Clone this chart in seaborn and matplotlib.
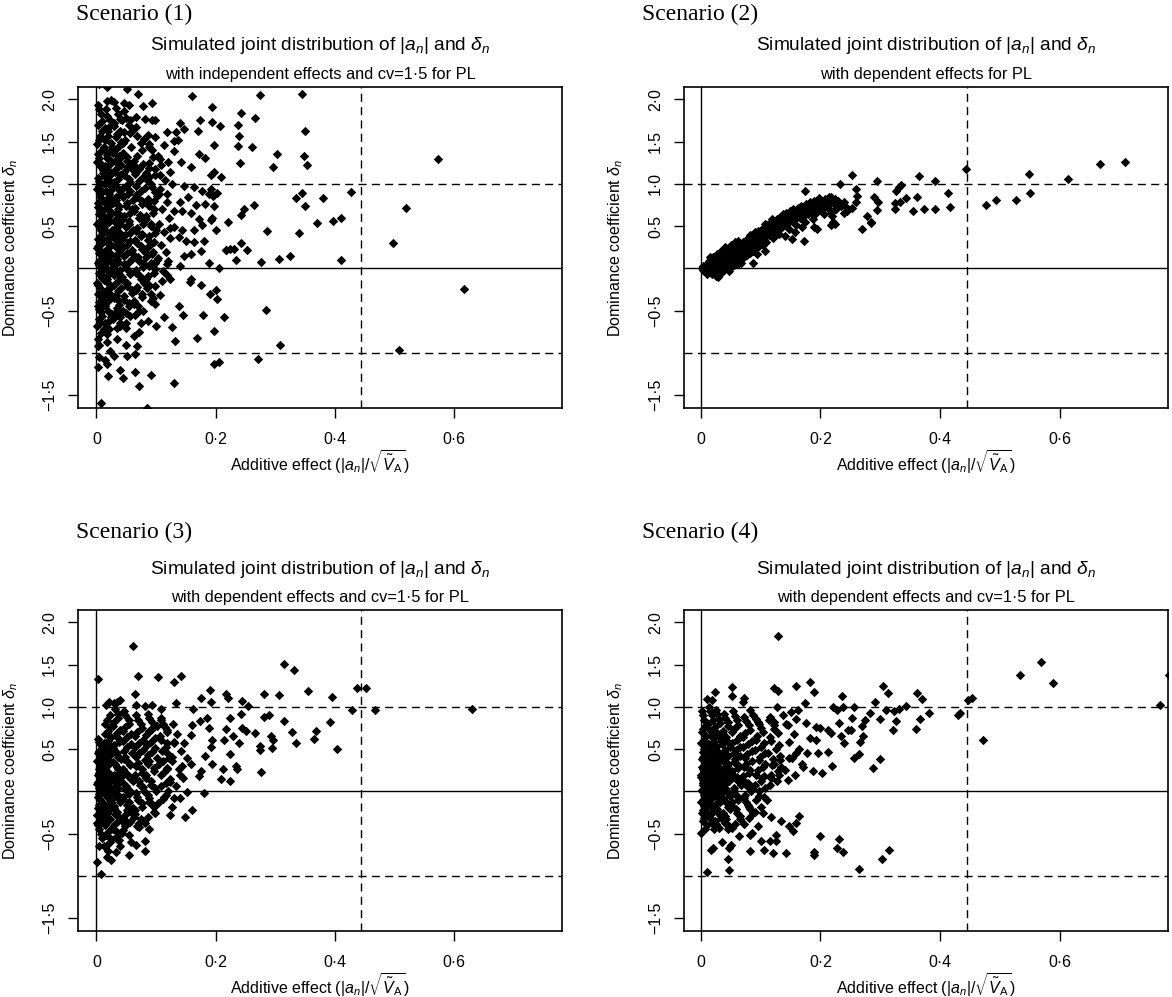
import numpy as np
import matplotlib
matplotlib.use("Agg")
import matplotlib.pyplot as plt
import seaborn as sns

# ---------------- data ----------------
# Scenario 1: independent effects, cv=1.5
s1_outer = [(0.573,1.29),(0.618,-0.245),(0.520,0.714),(0.498,0.296),(0.508,-0.966),(0.427,0.907),
 (0.411,0.595),(0.397,0.556),(0.371,0.532),(0.381,0.832),(0.411,0.095),(0.346,2.066),(0.351,1.624),
 (0.353,1.218),(0.348,1.325),(0.346,0.887),(0.336,0.836),(0.350,0.737),(0.340,0.422),(0.325,0.146),
 (0.307,0.114),(0.309,-0.907),(0.304,1.349),(0.297,1.203),(0.274,2.047),(0.267,1.778),(0.261,1.431),
 (0.264,0.753),(0.287,0.442),(0.277,0.079),(0.284,-0.489),(0.272,-1.065),(0.242,1.841),(0.240,1.565),
 (0.238,1.443),(0.241,1.250),(0.238,1.692),(0.248,0.702),(0.243,0.631),(0.243,0.296),(0.253,0.213),
 (0.231,0.229),(0.218,0.221),(0.234,0.103),(0.005,2.18),(0.017,2.145)]
s1_mid = [(0.052,2.12),(0.070,2.06),(0.161,2.04),(0.194,1.91),(0.094,1.96),(0.078,1.92),(0.047,1.95),
 (0.054,1.93),(0.024,1.99),(0.018,1.98),(0.066,1.79),(0.057,1.76),(0.043,1.75),(0.081,1.77),(0.094,1.76),
 (0.099,1.75),(0.141,1.72),(0.147,1.65),(0.174,1.76),(0.194,1.73),(0.207,1.68),(0.171,1.63),(0.134,1.61),
 (0.119,1.61),(0.098,1.55),(0.080,1.53),(0.060,1.63),(0.046,1.61),(0.035,1.59),(0.130,1.51),(0.137,1.52),
 (0.113,1.46),(0.088,1.43),(0.103,1.33),(0.130,1.39),(0.197,1.46),(0.172,1.35),(0.182,1.30),(0.159,1.20),
 (0.142,1.26),(0.120,1.26),(0.107,1.29),(0.089,1.19),(0.066,1.20),(0.053,1.20),(0.040,1.30),(0.088,1.08),
 (0.098,1.10),(0.107,1.11),(0.124,1.14),(0.197,1.14),(0.210,1.08),(0.192,1.10),(0.127,1.00),(0.147,0.98),
 (0.164,0.96),(0.178,0.92),(0.192,0.94),(0.189,0.88),(0.203,0.89),(0.196,0.86),(0.183,0.76),(0.197,0.74),
 (0.168,0.75),(0.153,0.84),(0.141,0.78),(0.119,0.88),(0.105,0.88),(0.096,0.80),(0.130,0.68),(0.144,0.68),
 (0.158,0.65),(0.172,0.58),(0.194,0.60),(0.221,0.55),(0.192,0.57),(0.178,0.51),(0.164,0.45),(0.144,0.45),
 (0.130,0.49),(0.200,0.45),(0.139,0.37),(0.150,0.33),(0.164,0.31),(0.180,0.32),(0.217,0.22),(0.225,0.23),
 (0.175,0.21),(0.158,0.17),(0.147,0.15),(0.189,0.06),(0.206,0.00),(0.141,0.03),(0.119,0.05),(0.099,0.07),
 (0.159,-0.13),(0.157,-0.16),(0.176,-0.19),(0.191,-0.30),(0.200,-0.26),(0.203,-0.36),(0.179,-0.55),
 (0.214,-0.57),(0.197,-0.74),(0.169,-0.82),(0.132,-0.86),(0.127,-0.69),(0.146,-0.55),(0.138,-0.44),
 (0.113,-0.58),(0.100,-0.68),(0.087,-0.62),(0.078,-0.50),(0.091,-0.38),(0.099,-0.21),(0.110,-0.15),
 (0.124,-0.13),(0.085,-0.23),(0.063,-0.42),(0.063,-0.80),(0.050,-0.90),(0.068,-0.92),(0.064,-1.01),
 (0.052,-1.03),(0.029,-1.03),(0.018,-1.13),(0.020,-1.27),(0.040,-1.20),(0.045,-1.29),(0.064,-1.22),
 (0.071,-1.39),(0.091,-1.26),(0.130,-1.35),(0.197,-1.13),(0.206,-1.11),(0.007,-1.59),(0.085,-1.65),
 (0.002,-1.17),(0.017,-0.78),(0.004,-0.90),(0.035,-0.70),(0.049,-0.64),(0.040,-0.58)]
s1_core = [(0.003,1.93),(0.008,1.83),(0.002,1.70),(0.010,1.62),(0.005,1.52),(0.001,1.47),(0.009,1.40),
 (0.004,1.31),(0.001,1.26),(0.007,1.20),(0.011,1.13),(0.003,1.07),(0.008,1.00),(0.001,0.94),(0.006,0.88),
 (0.010,0.82),(0.002,0.77),(0.007,0.70),(0.004,0.64),(0.011,0.58),(0.001,0.53),(0.006,0.47),(0.009,0.41),
 (0.003,0.35),(0.008,0.29),(0.001,0.24),(0.005,0.18),(0.010,0.12),(0.002,0.07),(0.007,0.01),(0.004,-0.05),
 (0.010,-0.11),(0.001,-0.17),(0.006,-0.23),(0.003,-0.30),(0.009,-0.37),(0.002,-0.44),(0.007,-0.52),
 (0.004,-0.60),(0.001,-0.68),(0.008,-0.76),(0.003,-0.92),(0.005,-1.05),
 (0.016,1.88),(0.022,1.76),(0.014,1.66),(0.020,1.57),(0.025,1.48),(0.013,1.41),(0.018,1.34),(0.024,1.27),
 (0.015,1.21),(0.021,1.15),(0.013,1.09),(0.019,1.03),(0.025,0.97),(0.016,0.91),(0.022,0.85),(0.013,0.79),
 (0.019,0.73),(0.024,0.67),(0.015,0.61),(0.021,0.55),(0.013,0.49),(0.018,0.43),(0.025,0.38),(0.016,0.32),
 (0.022,0.26),(0.014,0.20),(0.019,0.14),(0.024,0.08),(0.015,0.02),(0.021,-0.04),(0.013,-0.10),(0.018,-0.16),
 (0.025,-0.22),(0.016,-0.28),(0.022,-0.35),(0.014,-0.42),(0.020,-0.50),(0.024,-0.58),(0.015,-0.65),
 (0.021,-0.72),(0.017,-0.87),(0.023,-0.98),(0.014,-1.08),
 (0.030,1.97),(0.036,1.83),(0.029,1.72),(0.040,1.63),(0.033,1.55),(0.038,1.45),(0.028,1.37),(0.035,1.29),
 (0.041,1.22),(0.031,1.14),(0.037,1.06),(0.029,0.99),(0.039,0.92),(0.033,0.85),(0.028,0.77),(0.036,0.70),
 (0.041,0.62),(0.030,0.56),(0.035,0.49),(0.040,0.42),(0.029,0.36),(0.034,0.29),(0.039,0.22),(0.031,0.15),
 (0.037,0.08),(0.028,0.02),(0.035,-0.05),(0.040,-0.12),(0.030,-0.19),(0.036,-0.27),(0.029,-0.35),
 (0.038,-0.43),(0.032,-0.51),(0.027,-0.60),(0.039,-0.68),(0.034,-0.84),
 (0.046,1.86),(0.055,1.70),(0.048,1.52),(0.058,1.44),(0.044,1.36),(0.052,1.27),(0.060,1.17),(0.047,1.10),
 (0.056,1.02),(0.044,0.95),(0.053,0.88),(0.061,0.81),(0.049,0.74),(0.057,0.66),(0.045,0.59),(0.054,0.52),
 (0.061,0.45),(0.048,0.39),(0.056,0.32),(0.044,0.25),(0.052,0.18),(0.060,0.11),(0.047,0.05),(0.055,-0.03),
 (0.043,-0.10),(0.051,-0.17),(0.059,-0.25),(0.046,-0.33),(0.054,-0.41),(0.044,-0.50),(0.057,-0.56),
 (0.050,-0.70),
 (0.066,1.67),(0.075,1.48),(0.068,1.33),(0.079,1.24),(0.064,1.12),(0.072,1.03),(0.081,0.95),(0.067,0.87),
 (0.076,0.80),(0.064,0.72),(0.073,0.63),(0.080,0.56),(0.068,0.48),(0.077,0.41),(0.065,0.34),(0.074,0.27),
 (0.081,0.20),(0.069,0.13),(0.078,0.06),(0.066,-0.02),(0.073,-0.09),(0.080,-0.17),(0.067,-0.26),
 (0.076,-0.34),(0.070,-0.45),(0.064,-0.55),(0.075,-0.64),(0.071,-0.75),
 (0.086,1.58),(0.094,1.40),(0.088,1.25),(0.099,1.17),(0.085,1.04),(0.093,0.96),(0.101,0.86),(0.087,0.78),
 (0.096,0.70),(0.084,0.62),(0.092,0.53),(0.100,0.46),(0.088,0.38),(0.097,0.31),(0.085,0.24),(0.094,0.17),
 (0.101,0.10),(0.089,0.03),(0.096,-0.05),(0.084,-0.13),(0.092,-0.30),(0.099,-0.42),
 (0.108,1.22),(0.115,1.05),(0.106,0.94),(0.119,0.79),(0.110,0.70),(0.122,0.60),(0.105,0.52),(0.114,0.43),
 (0.123,0.36),(0.109,0.28),(0.117,0.20),(0.104,0.12),(0.120,0.09),(0.112,-0.03),(0.118,-0.08),(0.106,-0.31),
 (0.124,0.48)]
s1_fill = [(0.004,1.88),(0.010,1.74),(0.006,1.57),(0.012,1.44),(0.003,1.35),(0.008,1.23),(0.011,1.16),
 (0.005,1.03),(0.004,0.97),(0.010,0.91),(0.006,0.85),(0.012,0.79),(0.003,0.73),(0.008,0.67),(0.011,0.61),
 (0.005,0.55),(0.004,0.50),(0.010,0.44),(0.006,0.38),(0.012,0.32),(0.003,0.27),(0.008,0.21),(0.011,0.15),
 (0.005,0.09),(0.004,0.04),(0.010,-0.02),(0.006,-0.08),(0.012,-0.14),(0.003,-0.20),(0.008,-0.27),
 (0.011,-0.33),(0.005,-0.40),(0.004,-0.48),(0.010,-0.56),(0.006,-0.64),(0.012,-0.72),(0.003,-0.84),
 (0.018,1.80),(0.024,1.70),(0.020,1.62),(0.015,1.52),(0.026,1.44),(0.021,1.37),(0.017,1.30),(0.023,1.24),
 (0.018,1.18),(0.024,1.12),(0.020,1.06),(0.015,1.00),(0.026,0.94),(0.021,0.88),(0.017,0.82),(0.023,0.76),
 (0.018,0.70),(0.024,0.64),(0.020,0.58),(0.015,0.52),(0.026,0.46),(0.021,0.40),(0.017,0.35),(0.023,0.29),
 (0.018,0.23),(0.024,0.17),(0.020,0.11),(0.015,0.05),(0.026,-0.01),(0.021,-0.07),(0.017,-0.13),
 (0.023,-0.19),(0.018,-0.25),(0.024,-0.31),(0.020,-0.38),(0.015,-0.45),(0.026,-0.54),(0.021,-0.62),
 (0.017,-0.69),
 (0.033,1.90),(0.039,1.77),(0.030,1.68),(0.036,1.59),(0.041,1.50),(0.032,1.41),(0.038,1.33),(0.034,1.25),
 (0.033,1.18),(0.039,1.10),(0.030,1.02),(0.036,0.95),(0.041,0.88),(0.032,0.81),(0.038,0.74),(0.034,0.66),
 (0.033,0.59),(0.039,0.52),(0.030,0.45),(0.036,0.39),(0.041,0.32),(0.032,0.25),(0.038,0.18),(0.034,0.11),
 (0.033,0.05),(0.039,-0.02),(0.030,-0.08),(0.036,-0.15),(0.041,-0.23),(0.032,-0.31),(0.038,-0.39),
 (0.034,-0.47),(0.033,-0.55),(0.039,-0.64),
 (0.049,1.78),(0.056,1.60),(0.045,1.48),(0.052,1.32),(0.059,1.22),(0.047,1.14),(0.054,1.06),(0.049,0.98),
 (0.056,0.91),(0.045,0.84),(0.052,0.77),(0.059,0.70),(0.047,0.62),(0.054,0.56),(0.049,0.49),(0.056,0.42),
 (0.045,0.35),(0.052,0.28),(0.059,0.22),(0.047,0.15),(0.054,0.08),(0.049,0.01),(0.056,-0.06),(0.045,-0.14),
 (0.052,-0.21),(0.059,-0.29),(0.047,-0.37),(0.054,-0.45),(0.049,-0.53),
 (0.068,1.57),(0.076,1.40),(0.063,1.27),(0.072,1.18),(0.079,1.08),(0.066,0.98),(0.074,0.91),(0.068,0.84),
 (0.076,0.76),(0.063,0.68),(0.072,0.60),(0.079,0.52),(0.066,0.44),(0.074,0.38),(0.068,0.30),(0.076,0.23),
 (0.063,0.16),(0.072,0.09),(0.079,0.02),(0.066,-0.05),(0.074,-0.13),(0.068,-0.22),(0.076,-0.30),
 (0.063,-0.39),(0.072,-0.50),
 (0.088,1.47),(0.095,1.32),(0.083,1.13),(0.091,1.00),(0.098,0.90),(0.086,0.82),(0.088,0.74),(0.095,0.66),
 (0.083,0.58),(0.091,0.50),(0.098,0.42),(0.086,0.34),(0.088,0.27),(0.095,0.20),(0.083,0.13),(0.091,0.06),
 (0.098,-0.01),(0.086,-0.09),(0.088,-0.20),(0.095,-0.35)]

# Scenario 2: dependent effects
s2_outer = [(0.709,1.255),(0.667,1.235),(0.614,1.058),(0.548,1.121),(0.551,0.892),(0.527,0.809),
 (0.493,0.809),(0.477,0.750),(0.444,1.176),(0.417,0.722),(0.413,0.892),(0.391,1.030),(0.391,0.702),
 (0.373,0.702),(0.355,0.675),(0.362,0.848),(0.365,1.089),(0.343,0.833),(0.335,0.986),(0.332,0.959),
 (0.326,0.919),(0.324,0.773),(0.333,0.781),(0.325,0.702),(0.294,1.030),(0.294,0.690),(0.296,0.781),
 (0.285,0.537)]
s2_mid = [(0.253,1.11),(0.232,1.00),(0.175,0.92),(0.259,0.94),(0.262,0.86),(0.260,0.78),(0.253,0.72),
 (0.245,0.68),(0.239,0.66),(0.225,0.82),(0.217,0.84),(0.208,0.82),(0.203,0.76),(0.197,0.70),(0.192,0.66),
 (0.183,0.68),(0.169,0.72),(0.158,0.66),(0.150,0.60),(0.136,0.57),(0.119,0.58),(0.107,0.53),(0.122,0.47),
 (0.127,0.41),(0.141,0.38),(0.152,0.35),(0.172,0.33),(0.158,0.43),(0.169,0.49),(0.189,0.49),(0.194,0.47),
 (0.220,0.62),(0.221,0.55),(0.217,0.51),(0.225,0.53),(0.269,0.47),(0.278,0.62),(0.284,0.55),(0.290,0.84),
 (0.094,0.17),(0.088,0.07),(0.108,0.21),(0.096,0.37),(0.080,0.33),(0.074,0.27),(0.057,0.21),(0.052,0.27),
 (0.066,0.29),(0.102,0.45),(0.091,0.43),(0.082,0.39),(0.029,-0.10),(0.012,-0.03),(0.007,0.01)]
s2_core = [(0.002,0.00),(0.005,0.02),(0.004,-0.02),(0.008,0.03),(0.007,-0.01),(0.010,0.05),(0.011,0.01),
 (0.012,-0.03),(0.014,0.06),(0.015,0.02),(0.016,-0.02),(0.018,0.08),(0.019,0.04),(0.020,0.00),(0.021,-0.05),
 (0.022,0.10),(0.023,0.06),(0.024,0.02),(0.026,0.12),(0.027,0.08),(0.028,0.03),(0.029,-0.02),(0.030,0.14),
 (0.031,0.10),(0.032,0.05),(0.033,0.00),(0.034,0.16),(0.035,0.12),(0.036,0.07),(0.037,0.02),(0.038,0.18),
 (0.039,0.13),(0.040,0.09),(0.041,0.04),(0.042,0.20),(0.043,0.15),(0.044,0.10),(0.045,0.05),(0.046,0.23),
 (0.047,0.17),(0.048,0.12),(0.049,0.07),(0.050,0.02),(0.052,0.25),(0.053,0.19),(0.054,0.14),(0.055,0.09),
 (0.056,0.04),(0.058,0.27),(0.059,0.21),(0.060,0.16),(0.061,0.10),(0.062,0.05),(0.064,0.29),(0.065,0.23),
 (0.066,0.18),(0.067,0.12),(0.068,0.06),(0.070,0.31),(0.071,0.26),(0.072,0.20),(0.073,0.14),(0.075,0.34),
 (0.076,0.28),(0.077,0.22),(0.078,0.16),(0.080,0.36),(0.081,0.30),(0.082,0.24),(0.083,0.18),(0.085,0.39),
 (0.086,0.33),(0.087,0.27),(0.088,0.21),(0.090,0.41),(0.091,0.35),(0.092,0.30),(0.093,0.24),(0.095,0.44),
 (0.096,0.38),(0.097,0.32),(0.098,0.26),(0.100,0.46),(0.101,0.40),(0.102,0.34),(0.104,0.28),(0.105,0.48),
 (0.106,0.43),(0.108,0.37),(0.109,0.31),(0.111,0.51),(0.112,0.45),(0.114,0.39),(0.116,0.54),(0.117,0.48),
 (0.119,0.42),(0.120,0.36),(0.122,0.56),(0.123,0.50),(0.125,0.44),(0.127,0.59),(0.128,0.53),(0.130,0.47),
 (0.131,0.41),(0.133,0.61),(0.134,0.55),(0.136,0.49),(0.138,0.64),(0.139,0.58),(0.141,0.52),(0.143,0.66),
 (0.145,0.60),(0.146,0.54),(0.148,0.47),(0.150,0.68),(0.151,0.62),(0.153,0.56),(0.155,0.70),(0.157,0.64),
 (0.158,0.58),(0.160,0.51),(0.162,0.72),(0.164,0.66),(0.166,0.60),(0.168,0.74),(0.170,0.68),(0.172,0.62),
 (0.174,0.55),(0.176,0.76),(0.178,0.70),(0.180,0.64),(0.182,0.79),(0.184,0.72),(0.186,0.66),(0.188,0.59),
 (0.190,0.80),(0.192,0.74),(0.195,0.68),(0.198,0.83),(0.200,0.76),(0.203,0.70),(0.206,0.64),(0.209,0.78),
 (0.212,0.72),(0.215,0.84),(0.218,0.66),(0.222,0.76),(0.226,0.70),(0.230,0.80),(0.235,0.74),(0.240,0.78),
 (0.244,0.71),(0.003,0.03),(0.006,-0.03),(0.009,0.00),(0.013,0.09),(0.017,0.11),(0.025,-0.04),
 (0.010,-0.06),(0.030,-0.06),(0.015,0.13),(0.038,-0.03),(0.045,0.00),(0.012,0.04),(0.020,0.13),
 (0.027,0.17),(0.034,0.21),(0.041,0.25),(0.050,0.28),(0.057,0.31),(0.063,0.33)]
s2_fill = [(0.004,0.01),(0.009,0.04),(0.013,0.02),(0.017,0.05),(0.022,0.03),(0.026,0.07),(0.031,0.06),
 (0.035,0.09),(0.040,0.11),(0.044,0.13),(0.049,0.16),(0.053,0.17),(0.058,0.19),(0.063,0.21),(0.067,0.24),
 (0.072,0.25),(0.077,0.28),(0.081,0.31),(0.086,0.30),(0.091,0.33),(0.096,0.35),(0.101,0.37),(0.106,0.40),
 (0.111,0.41),(0.116,0.45),(0.121,0.46),(0.126,0.50),(0.131,0.51),(0.136,0.54),(0.141,0.56),(0.146,0.58),
 (0.151,0.59),(0.156,0.62),(0.161,0.63),(0.166,0.66),(0.171,0.66),(0.176,0.69),(0.181,0.71),(0.187,0.72),
 (0.193,0.71),(0.199,0.74),(0.205,0.77),(0.211,0.75),(0.217,0.79),(0.018,-0.06),(0.034,-0.05),
 (0.048,-0.03),(0.026,-0.09)]

# Scenario 3: dependent effects, cv=1.5
s3_outer = [(0.631,0.976),(0.468,0.964),(0.452,1.227),(0.437,1.227),(0.430,0.968),(0.404,0.496),
 (0.395,1.121),(0.393,0.826),(0.368,0.716),(0.366,0.625),(0.356,1.184),(0.336,0.570),(0.328,0.708),
 (0.332,1.432),(0.315,1.507),(0.315,0.838),(0.307,1.145),(0.290,0.901),(0.297,0.606),(0.295,0.515),
 (0.294,0.661),(0.282,1.157),(0.281,0.881),(0.275,0.535),(0.277,0.228),(0.274,0.484),(0.266,0.692),
 (0.251,0.716),(0.254,1.007),(0.245,1.066),(0.243,0.913),(0.239,0.578),(0.244,0.751),(0.236,0.271),
 (0.234,0.299),(0.230,0.653),(0.213,0.260),(0.191,1.204)]
s3_mid = [(0.061,1.72),(0.003,1.33),(0.070,1.37),(0.103,1.35),(0.130,1.29),(0.142,1.36),(0.064,1.15),
 (0.021,1.06),(0.035,1.06),(0.040,1.08),(0.066,1.02),(0.082,1.01),(0.094,1.02),(0.108,0.98),(0.133,1.04),
 (0.162,0.98),(0.176,1.10),(0.192,1.06),(0.217,1.15),(0.221,1.10),(0.225,0.87),(0.217,0.74),(0.214,0.61),
 (0.225,0.44),(0.210,0.15),(0.224,0.12),(0.180,-0.02),(0.152,-0.01),(0.160,-0.22),(0.148,-0.30),
 (0.173,0.18),(0.175,0.24),(0.194,0.33),(0.182,0.42),(0.192,0.52),(0.194,0.61),(0.189,0.75),(0.186,0.87),
 (0.174,0.83),(0.161,0.79),(0.159,0.67),(0.147,0.57),(0.152,0.39),(0.144,0.30),(0.159,0.33),(0.141,0.20),
 (0.124,0.11),(0.119,0.28),(0.127,0.41),(0.130,0.57),(0.119,0.73),(0.108,0.87),(0.102,0.77),(0.091,0.73),
 (0.130,-0.08),(0.127,-0.18),(0.124,-0.28),(0.113,-0.06),(0.099,-0.26),(0.091,-0.14),(0.082,-0.37),
 (0.088,-0.45),(0.082,-0.59),(0.066,-0.63),(0.081,-0.71),(0.054,-0.75),(0.035,-0.56),(0.012,-0.65),
 (0.024,-0.81),(0.018,-0.77),(0.001,-0.84),(0.008,-0.98),(0.001,-0.37),(0.043,-0.49),(0.046,-0.37),
 (0.063,-0.30),(0.068,-0.41),(0.052,-0.22)]
s3_core = [(0.002,0.62),(0.007,0.55),(0.004,0.48),(0.010,0.42),(0.001,0.36),(0.006,0.30),(0.009,0.24),
 (0.003,0.19),(0.008,0.14),(0.001,0.09),(0.005,0.04),(0.010,-0.01),(0.002,-0.06),(0.007,-0.11),
 (0.004,-0.16),(0.009,-0.22),(0.001,-0.28),(0.006,-0.34),(0.003,-0.40),(0.008,-0.50),(0.004,-0.65),
 (0.011,0.20),(0.005,0.10),(0.009,0.00),
 (0.016,1.02),(0.022,0.90),(0.014,0.80),(0.020,0.72),(0.025,0.64),(0.013,0.57),(0.018,0.50),(0.024,0.44),
 (0.015,0.38),(0.021,0.32),(0.013,0.26),(0.019,0.20),(0.025,0.15),(0.016,0.10),(0.022,0.05),(0.014,0.00),
 (0.020,-0.05),(0.024,-0.10),(0.015,-0.16),(0.021,-0.22),(0.013,-0.29),(0.018,-0.36),(0.025,-0.44),
 (0.016,-0.52),(0.022,-0.60),(0.019,-0.70),(0.023,0.12),(0.017,-0.02),(0.012,0.30),
 (0.030,1.05),(0.036,0.92),(0.029,0.82),(0.040,0.73),(0.033,0.65),(0.038,0.58),(0.028,0.51),(0.035,0.45),
 (0.041,0.38),(0.031,0.32),(0.037,0.26),(0.029,0.20),(0.039,0.14),(0.033,0.08),(0.028,0.02),(0.036,-0.04),
 (0.041,-0.10),(0.030,-0.17),(0.035,-0.24),(0.040,-0.31),(0.029,-0.40),(0.034,-0.48),(0.038,-0.58),
 (0.032,-0.72),(0.042,0.17),(0.031,0.05),
 (0.046,0.95),(0.055,0.85),(0.048,0.76),(0.058,0.68),(0.044,0.60),(0.052,0.52),(0.060,0.45),(0.047,0.38),
 (0.056,0.31),(0.044,0.24),(0.053,0.18),(0.061,0.12),(0.049,0.06),(0.057,0.00),(0.045,-0.06),(0.054,-0.13),
 (0.061,-0.20),(0.048,-0.28),(0.056,-0.36),(0.044,-0.46),(0.058,-0.60),
 (0.066,0.90),(0.075,0.80),(0.068,0.70),(0.079,0.61),(0.064,0.53),(0.072,0.45),(0.081,0.37),(0.067,0.30),
 (0.076,0.22),(0.064,0.15),(0.073,0.08),(0.080,0.01),(0.068,-0.06),(0.077,-0.14),(0.065,-0.22),
 (0.074,-0.32),(0.071,-0.42),
 (0.086,0.92),(0.094,0.82),(0.088,0.72),(0.099,0.63),(0.085,0.55),(0.093,0.47),(0.101,0.40),(0.087,0.32),
 (0.096,0.24),(0.084,0.16),(0.092,0.08),(0.100,0.00),(0.088,-0.08),(0.097,-0.18),(0.086,-0.30),
 (0.108,0.85),(0.115,0.76),(0.106,0.66),(0.119,0.57),(0.110,0.48),(0.122,0.40),(0.105,0.32),(0.114,0.23),
 (0.123,0.15),(0.109,0.06),(0.117,-0.04),(0.104,-0.14),
 (0.128,0.80),(0.136,0.68),(0.131,0.58),(0.142,0.48),(0.127,0.36),(0.138,0.26),(0.146,0.16),(0.133,0.06),
 (0.140,-0.08)]
s3_fill = [(0.004,0.58),(0.009,0.51),(0.002,0.45),(0.007,0.39),(0.011,0.33),(0.005,0.27),(0.004,0.22),
 (0.009,0.16),(0.002,0.11),(0.007,0.06),(0.011,0.02),(0.005,-0.03),(0.004,-0.08),(0.009,-0.13),
 (0.002,-0.19),(0.007,-0.25),(0.011,-0.31),(0.005,-0.37),(0.004,-0.44),(0.009,-0.55),
 (0.017,0.85),(0.023,0.76),(0.014,0.68),(0.020,0.60),(0.025,0.53),(0.016,0.47),(0.017,0.41),(0.023,0.35),
 (0.014,0.29),(0.020,0.23),(0.025,0.17),(0.016,0.12),(0.017,0.07),(0.023,0.02),(0.014,-0.03),(0.020,-0.08),
 (0.025,-0.13),(0.016,-0.19),(0.017,-0.25),(0.023,-0.32),(0.014,-0.40),(0.020,-0.48),(0.025,-0.56),
 (0.016,-0.65),
 (0.031,0.98),(0.037,0.87),(0.028,0.77),(0.034,0.69),(0.040,0.61),(0.030,0.55),(0.031,0.48),(0.037,0.41),
 (0.028,0.35),(0.034,0.29),(0.040,0.23),(0.030,0.17),(0.031,0.11),(0.037,0.04),(0.028,-0.01),(0.034,-0.07),
 (0.040,-0.13),(0.030,-0.20),(0.031,-0.27),(0.037,-0.35),(0.028,-0.44),(0.034,-0.53),(0.040,-0.65),
 (0.048,0.90),(0.055,0.80),(0.045,0.72),(0.051,0.64),(0.058,0.56),(0.047,0.48),(0.048,0.41),(0.055,0.34),
 (0.045,0.27),(0.051,0.21),(0.058,0.15),(0.047,0.09),(0.048,0.03),(0.055,-0.03),(0.045,-0.09),(0.051,-0.16),
 (0.058,-0.24),(0.047,-0.32),(0.048,-0.41),(0.055,-0.52),
 (0.069,0.85),(0.076,0.75),(0.064,0.65),(0.072,0.57),(0.079,0.49),(0.066,0.41),(0.069,0.34),(0.076,0.26),
 (0.064,0.19),(0.072,0.12),(0.079,0.05),(0.066,-0.02),(0.069,-0.10),(0.076,-0.18),(0.064,-0.27),
 (0.072,-0.37),
 (0.089,0.87),(0.096,0.77),(0.084,0.67),(0.092,0.59),(0.099,0.51),(0.086,0.43),(0.089,0.36),(0.096,0.28),
 (0.084,0.20),(0.092,0.12),(0.099,0.04),(0.086,-0.04),(0.089,-0.13),(0.096,-0.24),
 (0.112,0.80),(0.119,0.70),(0.108,0.61),(0.116,0.52),(0.121,0.44),(0.112,0.36),(0.119,0.27),(0.108,0.19),
 (0.116,0.10),(0.121,0.01),(0.112,-0.09)]

# Scenario 4: dependent effects, cv=1.5
s4_outer = [(0.782,1.373),(0.768,1.027),(0.568,1.530),(0.533,1.377),(0.589,1.282),(0.471,0.606),
 (0.454,1.102),(0.446,1.082),(0.434,0.928),(0.430,0.901),(0.381,0.928),(0.367,0.858),(0.360,0.740),
 (0.361,1.164),(0.370,1.094),(0.343,1.015),(0.331,0.980),(0.323,0.956),(0.322,0.724),(0.326,0.830),
 (0.313,1.164),(0.305,1.251),(0.310,0.968),(0.300,0.862),(0.299,0.386),(0.288,0.279),(0.292,1.054),
 (0.283,0.928),(0.274,0.842),(0.272,0.661),(0.267,0.586),(0.270,0.771),(0.265,0.448),(0.256,0.397),
 (0.256,0.995),(0.251,0.732),(0.252,0.866),(0.265,-0.913),(0.303,-0.795),(0.315,-0.696),(0.129,1.841),
 (0.200,-0.527),(0.190,-0.716),(0.190,-0.755),(0.231,-0.559),(0.227,-0.665),(0.237,-0.712),
 (0.001,-0.488),(0.086,-0.488)]
s4_mid = [(0.053,1.24),(0.024,1.17),(0.052,1.13),(0.073,1.11),(0.070,1.06),(0.010,1.09),(0.018,1.08),
 (0.123,1.22),(0.129,1.19),(0.160,1.25),(0.183,1.29),(0.189,1.18),(0.236,1.13),(0.221,1.00),(0.227,0.96),
 (0.238,1.00),(0.174,1.04),(0.162,0.96),(0.151,0.94),(0.137,0.90),(0.127,1.00),(0.082,0.96),(0.087,0.90),
 (0.095,0.82),(0.115,0.88),(0.123,0.82),(0.143,0.80),(0.160,0.86),(0.176,0.81),(0.193,0.76),(0.200,0.75),
 (0.213,0.73),(0.218,0.69),(0.231,0.81),(0.235,0.65),(0.239,0.57),(0.246,0.73),(0.193,0.61),(0.182,0.63),
 (0.178,0.46),(0.196,0.45),(0.213,0.47),(0.220,0.30),(0.202,0.22),(0.188,0.24),(0.171,0.29),(0.160,0.45),
 (0.146,0.14),(0.131,0.20),(0.115,0.08),(0.106,0.18),(0.119,0.31),(0.132,0.37),(0.148,0.39),(0.140,0.25),
 (0.106,-0.06),(0.110,-0.10),(0.101,-0.18),(0.104,-0.26),(0.090,-0.24),(0.081,-0.31),(0.073,-0.38),
 (0.053,-0.43),(0.046,-0.45),(0.081,-0.18),(0.095,-0.41),(0.118,-0.30),(0.134,-0.35),(0.148,-0.41),
 (0.160,-0.37),(0.165,-0.29),(0.154,-0.47),(0.126,-0.51),(0.115,-0.59),(0.101,-0.59),(0.083,-0.51),
 (0.064,-0.53),(0.048,-0.67),(0.050,-0.63),(0.036,-0.60),(0.020,-0.67),(0.017,-0.69),(0.046,-0.80),
 (0.048,-0.93),(0.010,-0.95),(0.083,-0.71),(0.120,-0.73),(0.143,-0.73),(0.106,-0.69),(0.126,-0.59)]
s4_core = [(0.002,0.95),(0.006,0.85),(0.003,0.74),(0.008,0.65),(0.001,0.57),(0.005,0.50),(0.009,0.44),
 (0.002,0.38),(0.007,0.32),(0.004,0.27),(0.010,0.22),(0.001,0.17),(0.006,0.12),(0.003,0.08),(0.008,0.04),
 (0.002,0.00),(0.005,-0.04),(0.009,-0.08),(0.001,-0.12),(0.006,-0.17),(0.003,-0.22),(0.008,-0.28),
 (0.004,-0.35),(0.007,-0.45),(0.009,0.30),(0.004,0.10),(0.010,-0.02),(0.001,0.20),
 (0.014,1.00),(0.019,0.90),(0.012,0.80),(0.017,0.71),(0.021,0.63),(0.013,0.56),(0.018,0.49),(0.022,0.43),
 (0.014,0.37),(0.019,0.31),(0.012,0.26),(0.016,0.21),(0.021,0.16),(0.013,0.11),(0.018,0.06),(0.022,0.02),
 (0.014,-0.03),(0.019,-0.08),(0.012,-0.13),(0.017,-0.18),(0.021,-0.24),(0.013,-0.30),(0.018,-0.37),
 (0.022,-0.44),(0.016,0.13),(0.020,0.35),(0.015,-0.10),
 (0.026,0.96),(0.031,0.86),(0.024,0.76),(0.029,0.68),(0.034,0.60),(0.025,0.53),(0.030,0.46),(0.035,0.40),
 (0.027,0.34),(0.032,0.28),(0.024,0.23),(0.029,0.18),(0.034,0.13),(0.026,0.08),(0.031,0.03),(0.035,-0.02),
 (0.027,-0.07),(0.032,-0.12),(0.024,-0.18),(0.029,-0.24),(0.034,-0.31),(0.026,-0.38),(0.033,0.25),
 (0.028,0.05),
 (0.039,0.92),(0.045,0.82),(0.037,0.72),(0.043,0.64),(0.049,0.56),(0.040,0.49),(0.046,0.42),(0.038,0.36),
 (0.044,0.30),(0.049,0.24),(0.041,0.18),(0.047,0.12),(0.038,0.07),(0.044,0.01),(0.049,-0.05),(0.040,-0.11),
 (0.046,-0.18),(0.038,-0.25),(0.043,-0.33),(0.048,-0.41),(0.042,0.15),
 (0.054,0.95),(0.061,0.84),(0.056,0.74),(0.065,0.65),(0.052,0.57),(0.059,0.49),(0.066,0.42),(0.055,0.35),
 (0.062,0.28),(0.053,0.21),(0.060,0.14),(0.067,0.08),(0.056,0.01),(0.063,-0.06),(0.052,-0.13),(0.059,-0.21),
 (0.066,-0.29),(0.057,-0.38),
 (0.072,0.88),(0.080,0.78),(0.074,0.69),(0.085,0.60),(0.071,0.52),(0.078,0.44),(0.086,0.36),(0.073,0.29),
 (0.081,0.22),(0.070,0.14),(0.077,0.07),(0.084,0.00),(0.072,-0.08),(0.079,-0.16),(0.087,-0.26),
 (0.092,0.86),(0.100,0.75),(0.094,0.66),(0.106,0.57),(0.091,0.49),(0.099,0.41),(0.108,0.33),(0.095,0.25),
 (0.103,0.16),(0.090,0.08),(0.098,0.00),(0.093,-0.10),
 (0.114,0.85),(0.123,0.74),(0.116,0.64),(0.130,0.55),(0.112,0.46),(0.121,0.38),(0.134,0.29),(0.118,0.20),
 (0.127,0.12),
 (0.145,0.78),(0.156,0.68),(0.148,0.58),(0.165,0.50),(0.152,0.40),(0.170,0.32),(0.158,0.20)]
s4_fill = [(0.004,0.90),(0.008,0.79),(0.002,0.70),(0.006,0.61),(0.010,0.53),(0.003,0.47),(0.004,0.41),
 (0.008,0.35),(0.002,0.29),(0.006,0.24),(0.010,0.19),(0.003,0.14),(0.004,0.10),(0.008,0.06),(0.002,0.02),
 (0.006,-0.02),(0.010,-0.06),(0.003,-0.10),(0.004,-0.14),(0.008,-0.19),(0.002,-0.25),(0.006,-0.31),
 (0.010,-0.40),
 (0.015,0.95),(0.020,0.85),(0.012,0.75),(0.017,0.67),(0.022,0.59),(0.014,0.52),(0.015,0.46),(0.020,0.40),
 (0.012,0.34),(0.017,0.28),(0.022,0.23),(0.014,0.18),(0.015,0.13),(0.020,0.08),(0.012,0.04),(0.017,0.00),
 (0.022,-0.05),(0.014,-0.10),(0.015,-0.15),(0.020,-0.21),(0.012,-0.27),(0.017,-0.33),(0.022,-0.40),
 (0.027,0.91),(0.032,0.81),(0.024,0.72),(0.030,0.64),(0.035,0.56),(0.026,0.49),(0.027,0.43),(0.032,0.37),
 (0.024,0.31),(0.030,0.26),(0.035,0.20),(0.026,0.15),(0.027,0.10),(0.032,0.05),(0.024,0.00),(0.030,-0.05),
 (0.035,-0.10),(0.026,-0.15),(0.027,-0.21),(0.032,-0.28),(0.024,-0.35),(0.030,-0.43),
 (0.041,0.87),(0.046,0.77),(0.038,0.68),(0.044,0.60),(0.049,0.52),(0.040,0.45),(0.041,0.39),(0.046,0.33),
 (0.038,0.27),(0.044,0.21),(0.049,0.15),(0.040,0.09),(0.041,0.04),(0.046,-0.02),(0.038,-0.08),(0.044,-0.14),
 (0.049,-0.21),(0.040,-0.29),(0.041,-0.37),
 (0.057,0.89),(0.063,0.79),(0.053,0.70),(0.060,0.61),(0.066,0.53),(0.055,0.45),(0.057,0.38),(0.063,0.31),
 (0.053,0.24),(0.060,0.17),(0.066,0.11),(0.055,0.04),(0.057,-0.03),(0.063,-0.10),(0.053,-0.17),
 (0.060,-0.25),(0.066,-0.33),
 (0.076,0.83),(0.083,0.73),(0.071,0.64),(0.079,0.56),(0.086,0.48),(0.074,0.40),(0.076,0.32),(0.083,0.25),
 (0.071,0.18),(0.079,0.10),(0.086,0.03),(0.074,-0.04),(0.076,-0.12),(0.083,-0.21),
 (0.097,0.80),(0.104,0.70),(0.092,0.61),(0.101,0.53),(0.108,0.45),(0.097,0.37),(0.104,0.29),(0.092,0.20),
 (0.101,0.12),(0.108,0.04),(0.097,-0.05),
 (0.122,0.79),(0.129,0.69),(0.118,0.60),(0.126,0.50),(0.133,0.42),(0.122,0.33),(0.129,0.24),(0.118,0.16)]

scenario_labels = ["Scenario (1)", "Scenario (2)", "Scenario (3)", "Scenario (4)"]
subtitles = ["with independent effects and cv=1\u00b75 for PL",
             "with dependent effects for PL",
             "with dependent effects and cv=1\u00b75 for PL",
             "with dependent effects and cv=1\u00b75 for PL"]
title_text = r"Simulated joint distribution of $|a_n|$ and $\delta_n$"
xlabel_text = r"Additive effect $(|a_n|/\sqrt{\tilde{V}_{\mathrm{A}}})$"
ylabel_text = r"Dominance coefficient $\delta_n$"
x_ticks = [0, 0.2, 0.4, 0.6]
x_ticklabels = ["0", "0\u00b72", "0\u00b74", "0\u00b76"]
y_ticks = [-1.5, -0.5, 0.5, 1.0, 1.5, 2.0]
y_ticklabels = ["\u22121\u00b75", "\u22120\u00b75", "0\u00b75", "1\u00b70", "1\u00b75", "2\u00b70"]
threshold_x = 0.445
ref_y = [1.0, -1.0]

panels = [s1_outer + s1_mid + s1_core + s1_fill,
          s2_outer + s2_mid + s2_core + s2_fill,
          s3_outer + s3_mid + s3_core + s3_fill,
          s4_outer + s4_mid + s4_core + s4_fill]

# ---------------- styling ----------------
sns.set_style("white")
plt.rcParams["font.family"] = ["Liberation Sans", "DejaVu Sans"]
plt.rcParams["mathtext.fontset"] = "custom"
plt.rcParams["mathtext.rm"] = "Liberation Sans"
plt.rcParams["mathtext.it"] = "Liberation Sans:italic"
plt.rcParams["mathtext.bf"] = "Liberation Sans:bold"
for key in ["text.color", "axes.labelcolor", "xtick.color", "ytick.color", "axes.edgecolor"]:
    plt.rcParams[key] = "black"

W, H = 1172, 997
fig = plt.figure(figsize=(W / 100, H / 100), dpi=100)

# box positions in pixels: (left, top, right, bottom)
boxes = [(78, 87, 562, 408), (684, 87, 1168, 408),
         (78, 610, 562, 931), (684, 610, 1168, 931)]
xlims = [(-0.031, 0.782), (-0.028, 0.781), (-0.031, 0.782), (-0.028, 0.781)]
ylim = (-1.65, 2.145)
scen_pos = [(76, 14), (642, 14), (76, 532), (642, 532)]
ylabel_px = [11, 616, 11, 616]

for i, (l, t, r, b) in enumerate(boxes):
    ax = fig.add_axes([l / W, 1 - b / H, (r - l) / W, (b - t) / H])
    pts = np.array(panels[i])
    sns.scatterplot(x=pts[:, 0], y=pts[:, 1], ax=ax, marker="D", s=23,
                    color="black", linewidth=0, legend=False, zorder=3)
    ax.axvline(0, color="black", lw=1.0, zorder=2)
    ax.axhline(0, color="black", lw=1.0, zorder=2)
    for yy in ref_y:
        ax.axhline(yy, color="black", lw=1.0, ls=(0, (5.8, 3.8)), zorder=2)
    ax.axvline(threshold_x, color="black", lw=1.0, ls=(0, (5.8, 3.8)), zorder=2)
    ax.set_xlim(*xlims[i])
    ax.set_ylim(*ylim)
    ax.set_xticks(x_ticks)
    ax.set_xticklabels(x_ticklabels, fontsize=11.5)
    ax.set_yticks(y_ticks)
    ax.set_yticklabels(y_ticklabels, fontsize=11.5, rotation=90, va="center")
    ax.tick_params(axis="x", length=7, width=1.0, pad=10, direction="out", bottom=True)
    ax.tick_params(axis="y", length=7, width=1.0, pad=8, direction="out", left=True)
    for sp in ax.spines.values():
        sp.set_color("black")
        sp.set_linewidth(1.2)
    ax.set_xlabel(xlabel_text, fontsize=11.5)
    ax.xaxis.set_label_coords(0.5, -54 / (b - t))
    ax.xaxis.label.set_va("center")
    ax.set_ylabel(ylabel_text, fontsize=11.5)
    ax.yaxis.set_label_coords(-(l - ylabel_px[i]) / (r - l), 0.5)
    ax.yaxis.label.set_va("center")
    ax.grid(False)
    cx = (l + r) / 2
    fig.text(cx / W, 1 - (t - 41) / H, title_text, ha="center", va="center", fontsize=13.8)
    fig.text(cx / W, 1 - (t - 13) / H, subtitles[i], ha="center", va="center", fontsize=11.8)
    sx, sy = scen_pos[i]
    fig.text(sx / W, 1 - sy / H, scenario_labels[i], ha="left", va="center",
             fontsize=17, family=["Liberation Serif", "DejaVu Serif"])

fig.savefig("out.png", dpi=100)
